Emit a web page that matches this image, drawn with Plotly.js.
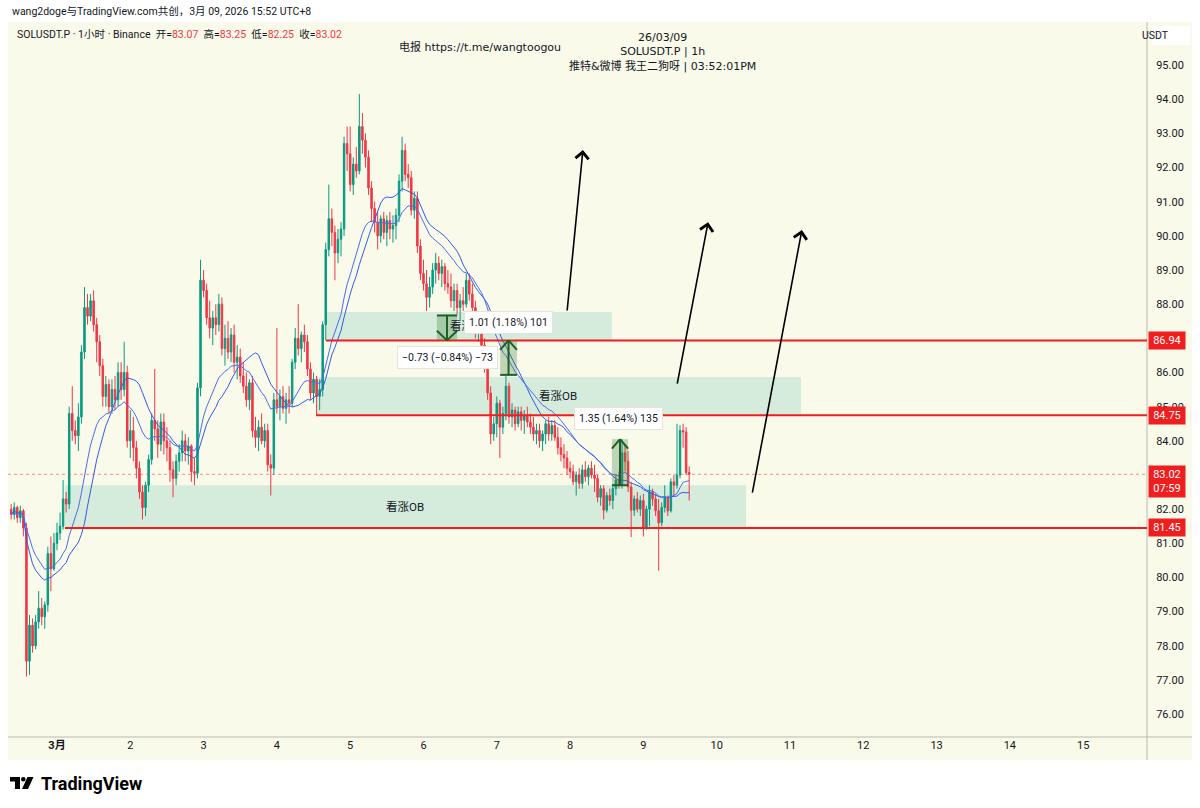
<!DOCTYPE html>
<html>
<head>
<meta charset="utf-8">
<script src="https://cdn.plot.ly/plotly-3.0.1.min.js"></script>
<style>
  html, body { margin: 0; padding: 0; background: #ffffff; }
  #chart { width: 1200px; height: 808px; }
</style>
</head>
<body>
<div id="chart"></div>
<script>
// SOLUSDT.P perpetual, 1h bars. Bar index 0 = 28 Feb 09:00; hours are counted from 1 Mar 00:00.
const FIRST_HOUR = -15;

const openP = [
  // 28 Feb
  82.00,81.85,82.05,81.75,81.95,81.45,77.55,78.60,78.00,78.70,79.10,78.85,79.20,80.70,80.25,
  // 1 Mar
  81.00,81.30,81.50,82.30,82.15,84.80,84.30,84.15,84.70,86.60,87.90,87.65,88.10,87.40,86.90,86.20,85.30,85.65,85.00,85.50,85.20,86.00,85.50,86.00,
  // 2 Mar
  84.00,84.30,83.80,83.20,82.50,82.05,82.70,83.45,84.60,84.35,83.90,84.55,84.00,83.80,83.15,82.90,83.40,83.65,84.00,83.70,83.85,83.10,83.05,85.55,
  // 3 Mar
  88.70,88.40,87.60,87.30,87.60,87.40,88.00,86.70,87.00,86.60,87.10,86.30,86.45,85.90,85.60,85.20,85.70,84.30,84.10,84.40,84.00,84.30,83.30,83.20,
  // 4 Mar
  85.20,85.00,85.30,84.95,85.20,85.10,86.30,87.00,86.70,87.10,86.90,86.10,85.40,85.80,85.30,85.50,87.40,89.60,90.50,90.10,89.50,89.90,90.20,92.70,
  // 5 Mar
  92.40,91.50,92.10,91.90,93.20,92.80,92.30,91.40,90.80,90.40,90.00,90.50,90.10,90.45,90.20,90.30,90.60,91.60,92.50,91.80,91.70,90.75,91.10,89.70,
  // 6 Mar
  88.90,88.60,88.20,88.50,89.00,89.20,88.90,89.10,88.60,88.50,88.10,88.40,87.90,88.10,88.00,88.70,88.30,87.90,87.20,87.30,86.80,86.20,85.40,84.20,
  // 7 Mar
  84.50,85.10,84.40,84.80,85.60,84.70,84.90,84.50,84.85,84.60,84.75,84.55,84.40,84.20,84.30,84.00,84.20,84.50,84.20,84.45,84.10,83.80,83.60,83.50,
  // 8 Mar
  83.20,83.10,82.80,83.00,82.75,83.15,82.95,83.20,83.00,82.90,82.35,82.60,81.97,82.40,82.25,82.60,82.85,82.70,83.65,83.40,82.65,81.97,82.30,82.00,
  // 9 Mar
  82.25,81.48,82.00,82.50,82.30,81.95,81.60,82.05,82.35,81.95,82.80,82.70,83.00,84.30,84.26,83.07
];
const highP = [
  82.15,82.20,82.10,82.10,82.00,81.60,78.90,78.80,78.90,79.60,79.40,79.30,80.90,81.20,81.30,
  81.60,81.90,82.85,82.50,85.00,85.60,84.60,85.10,86.80,88.50,88.30,88.30,88.40,87.60,87.10,86.40,85.90,85.80,85.80,85.90,86.30,86.30,86.90,86.20,
  84.90,84.70,84.00,83.40,82.70,82.80,83.60,84.80,86.10,84.60,84.80,84.80,84.40,84.00,83.40,83.60,83.90,84.30,84.20,84.10,83.90,83.50,85.70,89.30,
  89.00,88.60,88.10,87.80,88.00,88.30,88.20,87.40,87.50,87.30,87.40,86.80,86.70,86.30,86.00,85.80,85.90,84.70,84.60,84.80,84.50,84.50,83.60,85.40,
  87.30,85.50,85.60,85.40,85.60,86.40,87.30,88.00,87.20,87.40,87.10,86.30,86.00,85.90,85.80,87.50,89.80,91.50,90.80,90.30,90.20,90.40,92.90,93.20,
  93.20,92.30,92.60,94.15,93.60,93.00,92.50,91.60,91.00,90.70,90.60,90.70,90.60,90.70,90.60,90.80,91.80,92.90,92.70,92.10,91.90,91.30,91.30,89.90,
  89.30,89.00,88.80,89.20,89.50,89.40,89.30,89.20,89.00,88.90,88.60,88.60,88.30,88.50,88.90,88.90,88.60,88.10,87.50,87.40,87.00,86.40,85.60,84.70,
  85.30,85.20,85.00,85.90,85.70,85.10,85.00,85.00,85.00,84.90,85.00,84.80,84.70,84.50,84.50,84.30,84.60,84.70,84.60,84.60,84.40,84.10,83.90,83.70,
  83.40,83.30,83.10,83.20,83.30,83.40,83.30,83.40,83.30,83.00,82.70,82.70,82.50,82.60,82.70,83.00,83.10,84.05,83.90,83.70,82.80,82.40,82.50,82.40,
  82.45,82.10,82.70,82.60,82.45,82.30,82.20,82.70,82.40,82.90,83.00,84.50,84.46,84.50,84.40,83.25
];
const lowP = [
  81.70,81.70,81.60,81.60,81.20,77.10,77.15,77.80,77.90,78.50,78.60,78.50,79.00,79.60,80.20,
  80.80,81.10,81.40,81.90,82.00,84.00,83.90,83.70,84.50,86.40,87.40,87.50,87.20,86.30,85.90,85.00,85.00,84.80,84.80,84.90,85.00,85.20,85.30,83.80,
  83.50,83.40,82.90,82.30,81.70,81.80,82.50,83.30,84.00,83.50,83.70,83.60,83.40,82.80,82.35,82.70,83.10,83.40,83.40,83.30,82.80,82.70,82.90,85.30,
  88.20,87.40,87.00,86.80,87.10,87.20,86.50,86.20,86.40,86.30,86.00,85.80,85.70,85.40,85.00,84.90,84.10,83.80,83.70,83.90,83.80,83.10,82.40,83.00,
  84.80,84.60,84.80,84.50,84.80,85.00,86.10,86.50,86.30,86.60,85.90,85.20,85.10,84.75,84.90,85.30,86.94,89.40,89.70,88.70,89.20,89.40,90.00,91.90,
  91.30,91.20,91.70,91.80,92.40,92.00,91.20,90.40,90.10,89.60,89.80,89.90,89.70,89.90,89.80,89.90,90.40,91.30,91.60,91.40,90.60,90.50,89.50,88.70,
  88.40,87.80,87.90,88.30,88.60,88.70,88.50,88.40,88.30,87.90,87.80,87.70,87.50,87.80,87.90,88.10,87.80,87.00,86.90,86.60,86.00,85.20,83.90,84.00,
  84.10,83.50,84.20,84.60,84.50,84.40,84.30,84.40,84.30,84.20,84.40,84.20,84.00,83.90,83.80,83.70,83.90,84.00,84.00,84.00,83.60,83.40,83.20,83.00,
  82.90,82.70,82.40,82.60,82.60,82.80,82.70,82.90,82.50,82.20,82.10,81.70,81.90,82.10,82.00,82.40,82.60,82.60,83.10,82.50,81.18,81.80,81.90,81.80,
  81.20,81.40,81.50,82.10,81.80,80.20,81.50,81.90,81.80,81.90,82.40,82.60,82.90,83.80,83.00,82.25
];
const closeP = [
  81.85,82.05,81.75,81.95,81.45,77.55,78.60,78.00,78.70,79.10,78.85,79.20,80.70,80.25,81.00,
  81.30,81.50,82.30,82.15,84.80,84.30,84.15,84.70,86.60,87.90,87.65,88.10,87.40,86.90,86.20,85.30,85.65,85.00,85.50,85.20,86.00,85.50,86.00,84.00,
  84.30,83.80,83.20,82.50,82.05,82.70,83.45,84.60,84.35,83.90,84.55,84.00,83.80,83.15,82.90,83.40,83.65,84.00,83.70,83.85,83.10,83.05,85.55,88.70,
  88.40,87.60,87.30,87.60,87.40,88.00,86.70,87.00,86.60,87.10,86.30,86.45,85.90,85.60,85.20,85.70,84.30,84.10,84.40,84.00,84.30,83.30,83.20,85.20,
  85.00,85.30,84.95,85.20,85.10,86.30,87.00,86.70,87.10,86.90,86.10,85.40,85.80,85.30,85.50,87.40,89.60,90.50,90.10,89.50,89.90,90.20,92.70,92.40,
  91.50,92.10,91.90,93.20,92.80,92.30,91.40,90.80,90.40,90.00,90.50,90.10,90.45,90.20,90.30,90.60,91.60,92.50,91.80,91.70,90.75,91.10,89.70,88.90,
  88.60,88.20,88.50,89.00,89.20,88.90,89.10,88.60,88.50,88.10,88.40,87.90,88.10,88.00,88.70,88.30,87.90,87.20,87.30,86.80,86.20,85.40,84.20,84.50,
  85.10,84.40,84.80,85.60,84.70,84.90,84.50,84.85,84.60,84.75,84.55,84.40,84.20,84.30,84.00,84.20,84.50,84.20,84.45,84.10,83.80,83.60,83.50,83.20,
  83.10,82.80,83.00,82.75,83.15,82.95,83.20,83.00,82.90,82.35,82.60,81.97,82.40,82.25,82.60,82.85,82.70,83.65,83.40,82.65,81.97,82.30,82.00,82.25,
  81.48,82.00,82.50,82.30,81.95,81.60,82.05,82.35,81.95,82.80,82.70,83.00,84.30,84.26,83.07,83.02
];

// Time axis: one label per day (3月 = 1 March)
const dayIndex  = [0,1,2,3,4,5,6,7,8,9,10,11,12,13,14];
const dayLabels = ['<b>3月</b>','2','3','4','5','6','7','8','9','10','11','12','13','14','15'];
// price scale marks (87 and 83 sit under the level / last-price tags)
const priceTicks = [76,77,78,79,80,81,82,84,85,86,88,89,90,91,92,93,94,95];

// Horizontal rays (price, start hour)
const levelPrice = [86.94, 84.75, 81.45];
const levelStart = [88.1, 84.8, 2.6];

// Order-block zones
const zoneStart = [2.6, 84.8, 88.1];
const zoneEnd   = [225.6, 243.6, 181.7];
const zoneLow   = [81.45, 84.75, 86.94];
const zoneHigh  = [82.70, 85.87, 87.77];
const zoneText  = ['看涨OB', '看涨OB', '看涨OB'];

// Price-range measurements
const measStart = [124.4, 145.1, 181.7];
const measEnd   = [131.0, 150.6, 187.0];
const measFrom  = [87.67, 85.93, 82.70];
const measTo    = [86.94, 86.94, 84.05];
const measText  = ['−0.73 (−0.84%) −73', '1.01 (1.18%) 101', '1.35 (1.64%) 135'];
const measLabelX = [127.7, 147.8, 184.0];
const measLabelY = [86.45, 87.46, 84.64];

// Projection arrows (tail -> head)
const arrowTailX = [167.0, 203.0, 227.6];
const arrowTailY = [87.77, 85.63, 82.44];
const arrowHeadX = [172.2, 213.2, 243.9];
const arrowHeadY = [92.51, 90.40, 90.17];

// ---------------------------------------------------------------
const stamp = h => new Date(Date.UTC(2026, 2, 1) + Math.round(h * 3600000))
  .toISOString().slice(0, 19).replace('T', ' ');
const times = closeP.map((_, i) => stamp(FIRST_HOUR + i));

// moving averages of the closes
const sma20 = closeP.map((_, i) => {
  const w = closeP.slice(Math.max(0, i - 19), i + 1);
  return w.reduce((a, b) => a + b, 0) / w.length;
});
const ema20 = [];
closeP.forEach((c, i) => ema20.push(i === 0 ? c : ema20[i - 1] + (c - ema20[i - 1]) * 2 / 21));

// pane geometry in page pixels -> paper coordinates
const L = 8, R = 1147, T = 22, B = 737;
const px = x => (x - L) / (R - L);
const py = y => (B - y) / (B - T);

const UP = '#089981', DOWN = '#f23645', RED = '#f01e1e', BG = '#fafaeb';
const TXT = '#131722';
const UI = 'Roboto, "Noto Sans CJK SC", sans-serif';
const DV = '"DejaVu Sans", "Noto Sans CJK SC", sans-serif';
const FAR = stamp(420);

const traces = [
  {
    type: 'candlestick', x: times, open: openP, high: highP, low: lowP, close: closeP,
    increasing: { line: { color: UP, width: 1 }, fillcolor: UP },
    decreasing: { line: { color: DOWN, width: 1 }, fillcolor: DOWN },
    whiskerwidth: 0, hoverinfo: 'skip', showlegend: false
  },
  { type: 'scatter', mode: 'lines', x: times, y: sma20, line: { color: '#2f5be8', width: 1 }, hoverinfo: 'skip' },
  { type: 'scatter', mode: 'lines', x: times, y: ema20, line: { color: '#4a6cf0', width: 1 }, hoverinfo: 'skip' }
];

const shapes = [];
// right price-scale pane and bottom time-scale strip
shapes.push({ type: 'rect', xref: 'paper', yref: 'paper', x0: 1, x1: px(1192), y0: py(760), y1: 1,
  fillcolor: BG, line: { width: 0 }, layer: 'below' });
shapes.push({ type: 'rect', xref: 'paper', yref: 'paper', x0: 0, x1: px(1192), y0: py(760), y1: 0,
  fillcolor: BG, line: { width: 0 }, layer: 'below' });
shapes.push({ type: 'line', xref: 'paper', yref: 'paper', x0: 1, x1: 1, y0: py(760), y1: 1,
  line: { color: '#b9bbb0', width: 1 } });
shapes.push({ type: 'line', xref: 'paper', yref: 'paper', x0: 0, x1: px(1192), y0: 0, y1: 0,
  line: { color: '#b9bbb0', width: 1 } });
shapes.push({ type: 'rect', xref: 'paper', yref: 'paper', x0: px(1152), x1: px(1190), y0: py(45), y1: py(26),
  fillcolor: '#ffffff', line: { width: 0 } });

// zones
zoneStart.forEach((s, i) => {
  shapes.push({ type: 'rect', xref: 'x', yref: 'y', x0: stamp(s), x1: stamp(zoneEnd[i]),
    y0: zoneLow[i], y1: zoneHigh[i], fillcolor: 'rgba(8,153,129,0.15)', line: { width: 0 }, layer: 'below' });
});

// last-price line
const lastClose = closeP[closeP.length - 1];
shapes.push({ type: 'line', xref: 'paper', yref: 'y', x0: 0, x1: 1, y0: lastClose, y1: lastClose,
  line: { color: 'rgba(242,54,69,0.55)', width: 1, dash: 'dot' } });

// rays
levelPrice.forEach((p, i) => {
  shapes.push({ type: 'line', xref: 'x', yref: 'y', x0: stamp(levelStart[i]), x1: FAR, y0: p, y1: p,
    line: { color: RED, width: 2 } });
});

// measurement boxes with arrows
const MG = '#1f5f26';
measStart.forEach((s, i) => {
  const e = measEnd[i], a = measFrom[i], b = measTo[i];
  const mid = (s + e) / 2, dir = Math.sign(b - a);
  shapes.push({ type: 'rect', xref: 'x', yref: 'y', x0: stamp(s), x1: stamp(e), y0: a, y1: b,
    fillcolor: 'rgba(60,130,60,0.30)', line: { width: 0 } });
  shapes.push({ type: 'line', xref: 'x', yref: 'y', x0: stamp(s), x1: stamp(e), y0: a, y1: a, line: { color: MG, width: 2 } });
  shapes.push({ type: 'line', xref: 'x', yref: 'y', x0: stamp(mid), x1: stamp(mid), y0: a, y1: b, line: { color: MG, width: 2 } });
  shapes.push({ type: 'line', xref: 'x', yref: 'y', x0: stamp(s), x1: stamp(mid), y0: b - dir * 0.28, y1: b, line: { color: MG, width: 2 } });
  shapes.push({ type: 'line', xref: 'x', yref: 'y', x0: stamp(e), x1: stamp(mid), y0: b - dir * 0.28, y1: b, line: { color: MG, width: 2 } });
});

// TradingView mark
const path = pts => 'M' + pts.map(p => px(p[0]) + ',' + py(p[1])).join('L') + 'Z';
shapes.push({ type: 'path', xref: 'paper', yref: 'paper',
  path: path([[10,777],[20,777],[20,789],[15,789],[15,781.5],[10,781.5]]), fillcolor: '#000', line: { width: 0 } });
shapes.push({ type: 'circle', xref: 'paper', yref: 'paper', x0: px(21), x1: px(25.6), y0: py(781.6), y1: py(777),
  fillcolor: '#000', line: { width: 0 } });
shapes.push({ type: 'path', xref: 'paper', yref: 'paper',
  path: path([[27.5,777],[33.5,777],[28,789],[22,789]]), fillcolor: '#000', line: { width: 0 } });

const ann = [];
// zone captions
zoneStart.forEach((s, i) => {
  ann.push({ xref: 'x', yref: 'y', x: stamp((s + zoneEnd[i]) / 2), y: (zoneLow[i] + zoneHigh[i]) / 2,
    text: zoneText[i], showarrow: false, font: { family: UI, size: 11.5, color: TXT } });
});
// measurement captions
measText.forEach((t, i) => {
  ann.push({ xref: 'x', yref: 'y', x: stamp(measLabelX[i]), y: measLabelY[i], text: t, showarrow: false,
    font: { family: UI, size: 10.5, color: TXT }, bgcolor: '#ffffff', bordercolor: '#e3e3dc', borderwidth: 1, borderpad: 4 });
});
// arrows
arrowTailX.forEach((tx, i) => {
  ann.push({ xref: 'x', yref: 'y', axref: 'x', ayref: 'y', x: stamp(arrowHeadX[i]), y: arrowHeadY[i],
    ax: stamp(tx), ay: arrowTailY[i], text: '', showarrow: true, arrowhead: 4, arrowsize: 1.6,
    arrowwidth: 1.6, arrowcolor: '#000000', standoff: 0, startstandoff: 0 });
});
// price-scale tags
const tag = (txt, y, shift) => ann.push({ xref: 'paper', yref: 'y', x: 1, xanchor: 'left', xshift: 1, y: y, yshift: shift || 0,
  text: txt, showarrow: false, bgcolor: RED, width: 32, borderpad: 2,
  font: { family: UI, size: 11, color: '#ffffff' } });
levelPrice.forEach(p => tag(p.toFixed(2), p));
tag(lastClose.toFixed(2) + '<br>07:59', lastClose, -7);

// header and legend
const last = closeP.length - 1;
const red = v => '<span style="color:#f23645">' + v.toFixed(2) + '</span>';
ann.push({ xref: 'paper', yref: 'paper', x: px(10), y: py(11.5), xanchor: 'left', yanchor: 'middle', showarrow: false,
  text: 'wang2doge与TradingView.com共创，3月 09, 2026 15:52 UTC+8', font: { family: UI, size: 10.5, color: TXT } });
ann.push({ xref: 'paper', yref: 'paper', x: px(15), y: py(34.5), xanchor: 'left', yanchor: 'middle', showarrow: false,
  text: 'SOLUSDT.P · 1小时 · Binance  开=' + red(openP[last]) + '  高=' + red(highP[last]) +
        '  低=' + red(lowP[last]) + '  收=' + red(closeP[last]),
  font: { family: UI, size: 10.5, color: TXT } });
ann.push({ xref: 'paper', yref: 'paper', x: px(480), y: py(46.5), yanchor: 'middle', showarrow: false,
  text: '电报 https://t.me/wangtoogou', font: { family: DV, size: 11, color: TXT } });
ann.push({ xref: 'paper', yref: 'paper', x: px(662), y: py(52), yanchor: 'middle', showarrow: false, align: 'center',
  text: '26/03/09<br>SOLUSDT.P | 1h<br>推特&微博 我王二狗呀 | 03:52:01PM', font: { family: DV, size: 11, color: TXT } });
ann.push({ xref: 'paper', yref: 'paper', x: px(1171), y: py(35.5), yanchor: 'middle', showarrow: false,
  text: 'USDT', font: { family: UI, size: 10.5, color: TXT } });
ann.push({ xref: 'paper', yref: 'paper', x: px(39), y: py(783.5), xanchor: 'left', yanchor: 'middle', showarrow: false,
  text: '<b>TradingView</b>', font: { family: UI, size: 18, color: '#000000' } });

const layout = {
  width: 1200, height: 808,
  margin: { l: L, r: 1200 - R, t: T, b: 808 - B, pad: 0 },
  paper_bgcolor: '#ffffff', plot_bgcolor: BG,
  showlegend: false, dragmode: false,
  font: { family: UI, size: 11, color: TXT },
  xaxis: {
    type: 'date', range: [stamp(-16.04), stamp(356.9)],
    tickmode: 'array', tickvals: dayIndex.map(d => stamp(d * 24)), ticktext: dayLabels,
    tickfont: { family: UI, size: 11, color: TXT }, ticks: '',
    showgrid: false, zeroline: false, showline: false, rangeslider: { visible: false }, fixedrange: true
  },
  yaxis: {
    side: 'right', range: [75.33, 96.26],
    tickmode: 'array', tickvals: priceTicks, tickformat: '.2f',
    tickfont: { family: UI, size: 11, color: TXT }, ticks: 'outside', ticklen: 6, tickcolor: 'rgba(0,0,0,0)',
    showgrid: false, zeroline: false, showline: false, fixedrange: true
  },
  shapes: shapes,
  annotations: ann
};

Plotly.newPlot('chart', traces, layout, { staticPlot: true, displayModeBar: false });
</script>
</body>
</html>
